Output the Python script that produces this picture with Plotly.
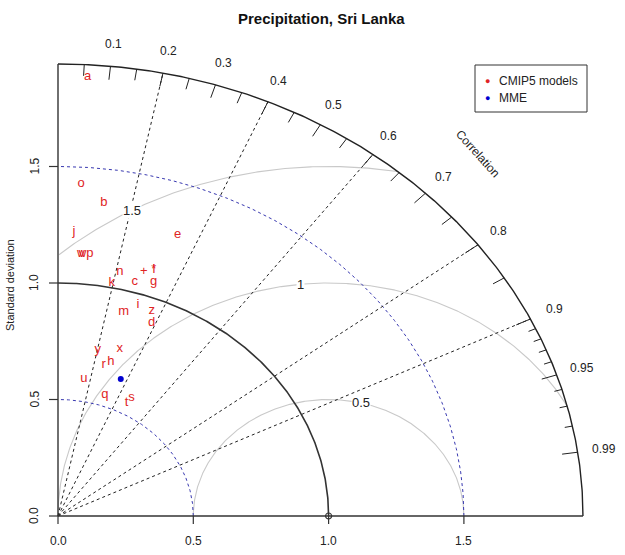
import numpy as np
import plotly.graph_objects as go

# ---------------- data ----------------
title = "Precipitation, Sri Lanka"
model_labels = ["a", "b", "c", "d", "e", "g", "h", "i", "j", "k", "l", "m", "n", "o",
                "p", "q", "r", "s", "t", "u", "v", "w", "x", "y", "z", "+", "*"]
model_sd = [1.887, 1.354, 1.043, 0.899, 1.284, 1.065, 0.689, 0.953, 1.220, 1.020, 1.114, 0.909,
            1.072, 1.428, 1.130, 0.547, 0.670, 0.574, 0.547, 0.596, 1.127, 1.127, 0.752, 0.727,
            0.946, 1.097, 1.114]
model_corr = [0.058, 0.125, 0.272, 0.385, 0.344, 0.332, 0.283, 0.310, 0.048, 0.195, 0.318, 0.267,
              0.213, 0.060, 0.104, 0.316, 0.252, 0.474, 0.464, 0.161, 0.078, 0.078, 0.303, 0.202,
              0.366, 0.289, 0.318]
mme_sd = [0.632]
mme_corr = [0.367]
ref_sd = 1.0
max_sd = 1.94
gamma_values = [0.5, 1.0, 1.5]
gamma_text = ["0.5", "1", "1.5"]
sd_arc_values = [0.5, 1.5]
corr_line_values = [0.2, 0.4, 0.6, 0.8, 0.9]
corr_label_values = [0.1, 0.2, 0.3, 0.4, 0.5, 0.6, 0.7, 0.8, 0.9, 0.95, 0.99]
corr_label_text = ["0.1", "0.2", "0.3", "0.4", "0.5", "0.6", "0.7", "0.8", "0.9", "0.95", "0.99"]
big_tick_values = [0.1, 0.2, 0.3, 0.4, 0.5, 0.6, 0.7, 0.8, 0.9, 0.95, 0.99]
med_tick_values = [0.05, 0.15, 0.25, 0.35, 0.45, 0.55, 0.65, 0.75, 0.85]
small_tick_values = [0.91, 0.92, 0.93, 0.94, 0.96, 0.97, 0.98]
axis_tick_values = [0.0, 0.5, 1.0, 1.5]
axis_tick_text = ["0.0", "0.5", "1.0", "1.5"]
legend_names = ["CMIP5 models", "MME"]

# ---------------- styles / geometry ----------------
W, H = 625, 555
X0PX, Y0PX = 58, 516          # pixel of data origin
SX, SY = 270.6, 233.0         # pixels per data unit
FONT = "Liberation Sans, Arial, sans-serif"
RED = "#e02424"
BLUE = "#0000d0"
GRAY = "#c9c9c9"
DOTBLUE = "#3838b0"

def px2x(p):
    return (p - X0PX) / SX

def px2y(p):
    return (Y0PX - p) / SY

fig = go.Figure()

def add_line(xs, ys, color, width=1, dash="solid"):
    fig.add_trace(go.Scatter(x=xs, y=ys, mode="lines", hoverinfo="skip", showlegend=False,
                             line=dict(color=color, width=width, dash=dash)))

# gamma (centered RMS) arcs around the reference point
t = np.linspace(0, np.pi, 600)
for g in gamma_values:
    xs = ref_sd + g * np.cos(t)
    ys = g * np.sin(t)
    keep = (xs >= 0) & (xs ** 2 + ys ** 2 <= max_sd ** 2)
    add_line(xs[keep], ys[keep], GRAY, 1.1)

# quarter-circle helper
q = np.linspace(0, np.pi / 2, 300)
for r in sd_arc_values:
    add_line(r * np.cos(q), r * np.sin(q), DOTBLUE, 1, "dot")

# radial correlation lines
rx, ry = [], []
for c in corr_line_values:
    a = np.arccos(c)
    rx += [0, max_sd * np.cos(a), None]
    ry += [0, max_sd * np.sin(a), None]
add_line(rx, ry, "#222222", 1, "dot")

# reference sd arc
add_line(ref_sd * np.cos(q), ref_sd * np.sin(q), "#333333", 1.6)

# outer arc + axis lines
add_line(max_sd * np.cos(q), max_sd * np.sin(q), "#222222", 1.4)
add_line([0, max_sd], [0, 0], "#333333", 1.4)
add_line([0, 0], [0, max_sd], "#333333", 1.4)

# ticks on outer arc
tx, ty = [], []
for vals, frac in ((big_tick_values, 0.97), (med_tick_values, 0.975), (small_tick_values, 0.985)):
    for c in vals:
        a = np.arccos(c)
        tx += [max_sd * np.cos(a), frac * max_sd * np.cos(a), None]
        ty += [max_sd * np.sin(a), frac * max_sd * np.sin(a), None]
add_line(tx, ty, "#222222", 1)

# axis ticks
ax_x, ax_y = [], []
for v in axis_tick_values:
    ax_x += [v, v, None]
    ax_y += [0, -8 / SY, None]
    ax_x += [0, -9 / SX, None]
    ax_y += [v, v, None]
add_line(ax_x, ax_y, "#333333", 1.2)

# reference point
fig.add_trace(go.Scatter(x=[ref_sd], y=[0], mode="markers", showlegend=False, hoverinfo="skip",
                         marker=dict(size=6, color="rgba(0,0,0,0)", line=dict(color="#333333", width=1.2))))

# model letters
msd = np.array(model_sd)
mc = np.array(model_corr)
fig.add_trace(go.Scatter(x=msd * mc, y=msd * np.sqrt(1 - mc ** 2), mode="text", text=model_labels,
                         textposition="middle center", showlegend=False, hoverinfo="skip",
                         name=legend_names[0],
                         textfont=dict(family=FONT, size=13, color=RED)))

# multi-model ensemble mean
esd = np.array(mme_sd)
ec = np.array(mme_corr)
fig.add_trace(go.Scatter(x=esd * ec, y=esd * np.sqrt(1 - ec ** 2), mode="markers", name=legend_names[1],
                         showlegend=False, hoverinfo="skip", marker=dict(size=6, color=BLUE)))

ann = []
# gamma labels (boxed, white bg)
gamma_label_angles = [76, 96, 119]
for g, txt, ang in zip(gamma_values, gamma_text, gamma_label_angles):
    a = np.radians(ang)
    ann.append(dict(x=ref_sd + g * np.cos(a), y=g * np.sin(a), text=txt, showarrow=False,
                    bgcolor="white", borderpad=0, font=dict(family=FONT, size=13, color="#222222")))

# correlation labels
for c, txt in zip(corr_label_values, corr_label_text):
    a = np.arccos(c)
    ann.append(dict(x=1.05 * max_sd * np.cos(a), y=1.05 * max_sd * np.sin(a), text=txt, showarrow=False,
                    font=dict(family=FONT, size=12, color="#222222")))
ann.append(dict(x=0.8 * max_sd, y=0.8 * max_sd, text="Correlation", showarrow=False, textangle=48,
                font=dict(family=FONT, size=12, color="#222222")))

# axis tick labels
for v, txt in zip(axis_tick_values, axis_tick_text):
    ann.append(dict(x=v, y=px2y(541), text=txt, showarrow=False,
                    font=dict(family=FONT, size=12, color="#222222")))
    ann.append(dict(x=px2x(34), y=v, text=txt, showarrow=False, textangle=-90,
                    font=dict(family=FONT, size=12, color="#222222")))
ann.append(dict(x=px2x(10), y=px2y(285), text="Standard deviation", showarrow=False, textangle=-90,
                font=dict(family=FONT, size=11, color="#222222")))
ann.append(dict(x=px2x(321), y=px2y(18), text="<b>" + title + "</b>", showarrow=False,
                font=dict(family=FONT, size=15, color="#111111")))

# legend (drawn in paper coordinates)
LX0, LY0, LX1, LY1 = 475, 65, 587, 112
shapes = [dict(type="rect", xref="paper", yref="paper", x0=LX0 / W, x1=LX1 / W,
               y0=1 - LY1 / H, y1=1 - LY0 / H, line=dict(color="#333333", width=1),
               fillcolor="white", layer="above")]
for name, col, ly in zip(legend_names, [RED, BLUE], [81, 98]):
    ann.append(dict(xref="paper", yref="paper", x=487 / W, y=1 - ly / H, text="●", showarrow=False,
                    xanchor="center", yanchor="middle",
                    font=dict(family=FONT, size=9, color=col)))
    ann.append(dict(xref="paper", yref="paper", x=497 / W, y=1 - ly / H, text=name, showarrow=False,
                    xanchor="left", yanchor="middle", font=dict(family=FONT, size=12, color="#222222")))

fig.update_layout(
    width=W, height=H,
    margin=dict(l=0, r=0, t=0, b=0),
    paper_bgcolor="white", plot_bgcolor="white",
    xaxis=dict(range=[px2x(0), px2x(W)], visible=False, fixedrange=True),
    yaxis=dict(range=[px2y(H), px2y(0)], visible=False, fixedrange=True),
    annotations=ann,
    shapes=shapes,
    showlegend=False,
    hovermode=False,
)

fig.write_html("out.html", config={"displayModeBar": False},
               post_script="document.body.style.margin='0';document.body.style.overflow='hidden';")
